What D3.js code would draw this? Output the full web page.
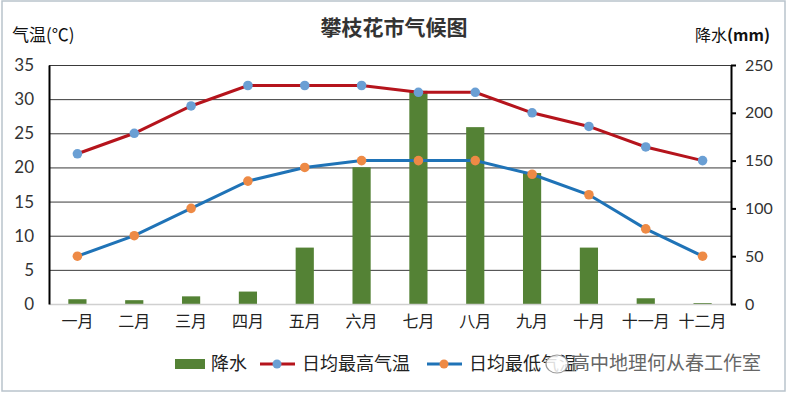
<!DOCTYPE html>
<html>
<head>
<meta charset="utf-8">
<script src="https://cdn.jsdelivr.net/npm/d3@7"></script>
<style>
  body { margin: 0; background: #fff; }
  text { font-family: "Noto Sans CJK SC", sans-serif; }
  .num text { font-family: Lato, "Liberation Sans", sans-serif; }
</style>
</head>
<body>
<div id="chart"></div>
<script>
const months = ["一月", "二月", "三月", "四月", "五月", "六月", "七月", "八月", "九月", "十月", "十一月", "十二月"];
const highTemp = [22, 25, 29, 32, 32, 32, 31, 31, 28, 26, 23, 21];
const lowTemp = [7, 10, 14, 18, 20, 21, 21, 21, 19, 16, 11, 7];
const rain = [5, 4, 8, 13, 59, 143, 223, 185, 137, 59, 6, 1];
const tempTicks = [0, 5, 10, 15, 20, 25, 30, 35];
const rainTicks = [0, 50, 100, 150, 200, 250];

const width = 788;
const height = 395;
const margin = {top: 65, left: 49, right: 57, bottom: 91};

const svg = d3.select("#chart")
    .append("svg")
    .attr("width", width)
    .attr("height", height);

// frame
svg.append("rect")
    .attr("x", 2).attr("y", 1)
    .attr("width", width - 5).attr("height", height - 5)
    .attr("fill", "#fff")
    .attr("stroke", "#b9c3cc")
    .attr("stroke-width", 1.5);

const xScale = d3.scaleBand()
    .domain(months)
    .range([margin.left, width - margin.right]);
const yTemp = d3.scaleLinear()
    .domain([0, 35])
    .range([height - margin.bottom, margin.top]);
const yRain = d3.scaleLinear()
    .domain([0, 250])
    .range([height - margin.bottom, margin.top]);

const cx = function(d, i) { return xScale(months[i]) + xScale.bandwidth() / 2; };

// gridlines
svg.append("g")
    .attr("transform", `translate(${margin.left},0)`)
    .call(d3.axisLeft(yTemp).tickValues(tempTicks.slice(1)).tickSize(-(width - margin.left - margin.right)).tickFormat(""))
    .call(g => g.select(".domain").remove())
    .call(g => g.selectAll(".tick line").attr("stroke", "#3a3a3a").attr("stroke-width", 1));

// bars
const barW = xScale.bandwidth() * 0.32;
svg.selectAll(".bar")
    .data(rain)
    .enter()
    .append("rect")
        .attr("class", "bar")
        .attr("x", function(d, i) { return cx(d, i) - barW / 2; })
        .attr("y", function(d) { return yRain(d); })
        .attr("width", barW)
        .attr("height", function(d) { return yRain(0) - yRain(d); })
        .attr("fill", "#548235");

// x axis
const xAxis = svg.append("g")
    .attr("transform", `translate(0,${height - margin.bottom})`)
    .call(d3.axisBottom(xScale).tickSize(0).tickPadding(12));
xAxis.select(".domain").attr("stroke", "#d0d0d0").attr("stroke-width", 1.5);
xAxis.selectAll("text")
    .attr("font-size", 16)
    .attr("fill", "#222")
    .style("font-family", "'Noto Sans CJK SC', sans-serif");

// left axis
const yAxisL = svg.append("g")
    .attr("class", "num")
    .attr("transform", `translate(${margin.left},0)`)
    .call(d3.axisLeft(yTemp).tickValues(tempTicks).tickSize(0).tickSizeOuter(0).tickPadding(15));
yAxisL.select(".domain").attr("stroke", "#000").attr("stroke-width", 2);
yAxisL.selectAll("text").attr("font-size", 17).attr("fill", "#333");

// right axis
const yAxisR = svg.append("g")
    .attr("class", "num")
    .attr("transform", `translate(${width - margin.right},0)`)
    .call(d3.axisRight(yRain).tickValues(rainTicks).tickSize(5).tickSizeOuter(0).tickPadding(9));
yAxisR.select(".domain").attr("stroke", "#000").attr("stroke-width", 2);
yAxisR.selectAll(".tick line").attr("stroke", "#000").attr("stroke-width", 2);
yAxisR.selectAll("text").attr("font-size", 16).attr("fill", "#333");

// lines
const line = d3.line()
    .x(cx)
    .y(function(d) { return yTemp(d); });

svg.append("path")
    .datum(highTemp)
    .attr("d", line)
    .attr("fill", "none")
    .attr("stroke", "#b5141c")
    .attr("stroke-width", 3);
svg.append("path")
    .datum(lowTemp)
    .attr("d", line)
    .attr("fill", "none")
    .attr("stroke", "#1f73b7")
    .attr("stroke-width", 3);

svg.selectAll(".hi")
    .data(highTemp)
    .enter()
    .append("circle")
        .attr("class", "hi")
        .attr("cx", cx)
        .attr("cy", function(d) { return yTemp(d); })
        .attr("r", 4.8)
        .attr("fill", "#6a9fd4");
svg.selectAll(".lo")
    .data(lowTemp)
    .enter()
    .append("circle")
        .attr("class", "lo")
        .attr("cx", cx)
        .attr("cy", function(d) { return yTemp(d); })
        .attr("r", 4.8)
        .attr("fill", "#ee8a45");

// titles
svg.append("text")
    .attr("x", 394).attr("y", 35)
    .attr("text-anchor", "middle")
    .attr("font-size", 21)
    .attr("font-weight", "bold")
    .attr("fill", "#333")
    .text("攀枝花市气候图");
svg.append("text")
    .attr("x", 12).attr("y", 41)
    .attr("font-size", 17)
    .attr("fill", "#111")
    .text("气温(℃)");
const rt = svg.append("text")
    .attr("x", 695).attr("y", 41)
    .attr("font-size", 16)
    .attr("fill", "#111");
rt.append("tspan").text("降水");
rt.append("tspan").attr("font-weight", "bold").text("(mm)");

// legend
const ly = 364;
const legend = svg.append("g");
legend.append("rect")
    .attr("x", 175).attr("y", ly - 5)
    .attr("width", 30).attr("height", 10)
    .attr("fill", "#548235");
legend.append("text")
    .attr("x", 211).attr("y", ly + 6)
    .attr("font-size", 18).attr("fill", "#222")
    .text("降水");
legend.append("line")
    .attr("x1", 260).attr("x2", 295).attr("y1", ly).attr("y2", ly)
    .attr("stroke", "#b5141c").attr("stroke-width", 3);
legend.append("circle")
    .attr("cx", 277).attr("cy", ly).attr("r", 4.5).attr("fill", "#6a9fd4");
legend.append("text")
    .attr("x", 302).attr("y", ly + 6)
    .attr("font-size", 18).attr("fill", "#222")
    .text("日均最高气温");
legend.append("line")
    .attr("x1", 427).attr("x2", 462).attr("y1", ly).attr("y2", ly)
    .attr("stroke", "#1f73b7").attr("stroke-width", 3);
legend.append("circle")
    .attr("cx", 444).attr("cy", ly).attr("r", 4.5).attr("fill", "#ee8a45");
legend.append("text")
    .attr("x", 469).attr("y", ly + 6)
    .attr("font-size", 18).attr("fill", "#222")
    .text("日均最低气温");

// watermark
svg.append("ellipse")
    .attr("cx", 557).attr("cy", ly)
    .attr("rx", 11).attr("ry", 9)
    .attr("fill", "#fff").attr("fill-opacity", 0.85)
    .attr("stroke", "#999").attr("stroke-width", 1.2);
svg.append("text")
    .attr("x", 571).attr("y", ly + 6)
    .attr("font-size", 19).attr("fill", "#666")
    .attr("stroke", "#fff").attr("stroke-width", 0.6).attr("paint-order", "stroke")
    .text("高中地理何从春工作室");
</script>
</body>
</html>
